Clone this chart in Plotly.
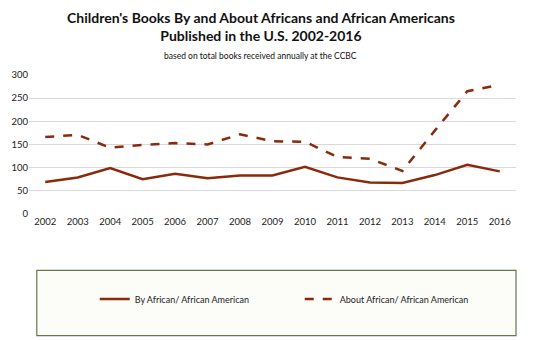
import plotly.graph_objects as go

years = [str(y) for y in range(2002, 2017)]
by_aa = [69, 79, 99, 75, 87, 77, 83, 83, 102, 79, 68, 67, 84, 106, 92]
about_aa = [166, 171, 143, 149, 153, 150, 172, 157, 156, 123, 119, 93, 180, 265, 279]
yticks = [0, 50, 100, 150, 200, 250, 300]

line_color = "#8a2a0c"
font_family = "Lato, 'Open Sans', sans-serif"

fig = go.Figure()
fig.add_trace(go.Scatter(x=years, y=by_aa, mode="lines", name="By African/ African American",
                         line=dict(color=line_color, width=2.5)))
fig.add_trace(go.Scatter(x=years, y=about_aa, mode="lines", name="About African/ African American",
                         line=dict(color=line_color, width=2.5, dash="dash")))

fig.update_layout(
    width=540, height=340,
    margin=dict(l=29, r=24, t=75, b=126),
    paper_bgcolor="white", plot_bgcolor="white",
    font=dict(family=font_family, color="#222222", size=9),
    showlegend=True,
    legend=dict(orientation="h", x=0.135, xanchor="left", y=-0.612, yanchor="middle",
                bgcolor="rgba(0,0,0,0)", font=dict(size=9, color="#222222"),
                entrywidth=160, entrywidthmode="pixels"),
    shapes=[dict(type="rect", xref="paper", yref="paper", x0=0.016, x1=1.0, y0=-0.405, y1=-0.875,
                 line=dict(color="#66774f", width=1.2), fillcolor="#fcfdf9", layer="below")],
)
fig.add_annotation(text="<b>Children's Books By and About Africans and African Americans</b><br><b>Published in the U.S. 2002-2016</b>",
                   xref="paper", yref="paper", x=0.476, y=1.0, yshift=68, yanchor="top", xanchor="center",
                   showarrow=False, font=dict(size=14, color="#111111"), align="center")
fig.add_annotation(text="based on total books received annually at the CCBC",
                   xref="paper", yref="paper", x=0.476, y=1.0, yshift=19, yanchor="middle", xanchor="center",
                   showarrow=False, font=dict(size=8.5, color="#111111"))

fig.update_xaxes(type="category", range=[-0.5, 14.5], showgrid=False, showline=False, zeroline=False,
                 ticks="", tickfont=dict(size=9.5, color="#222222"))
fig.update_yaxes(range=[0, 300], tickvals=yticks, showgrid=True, gridcolor="#d9d9d9", gridwidth=1,
                 zeroline=False, showline=False, ticks="", tickfont=dict(size=9.5, color="#222222"))

fig.write_html("out.html")
